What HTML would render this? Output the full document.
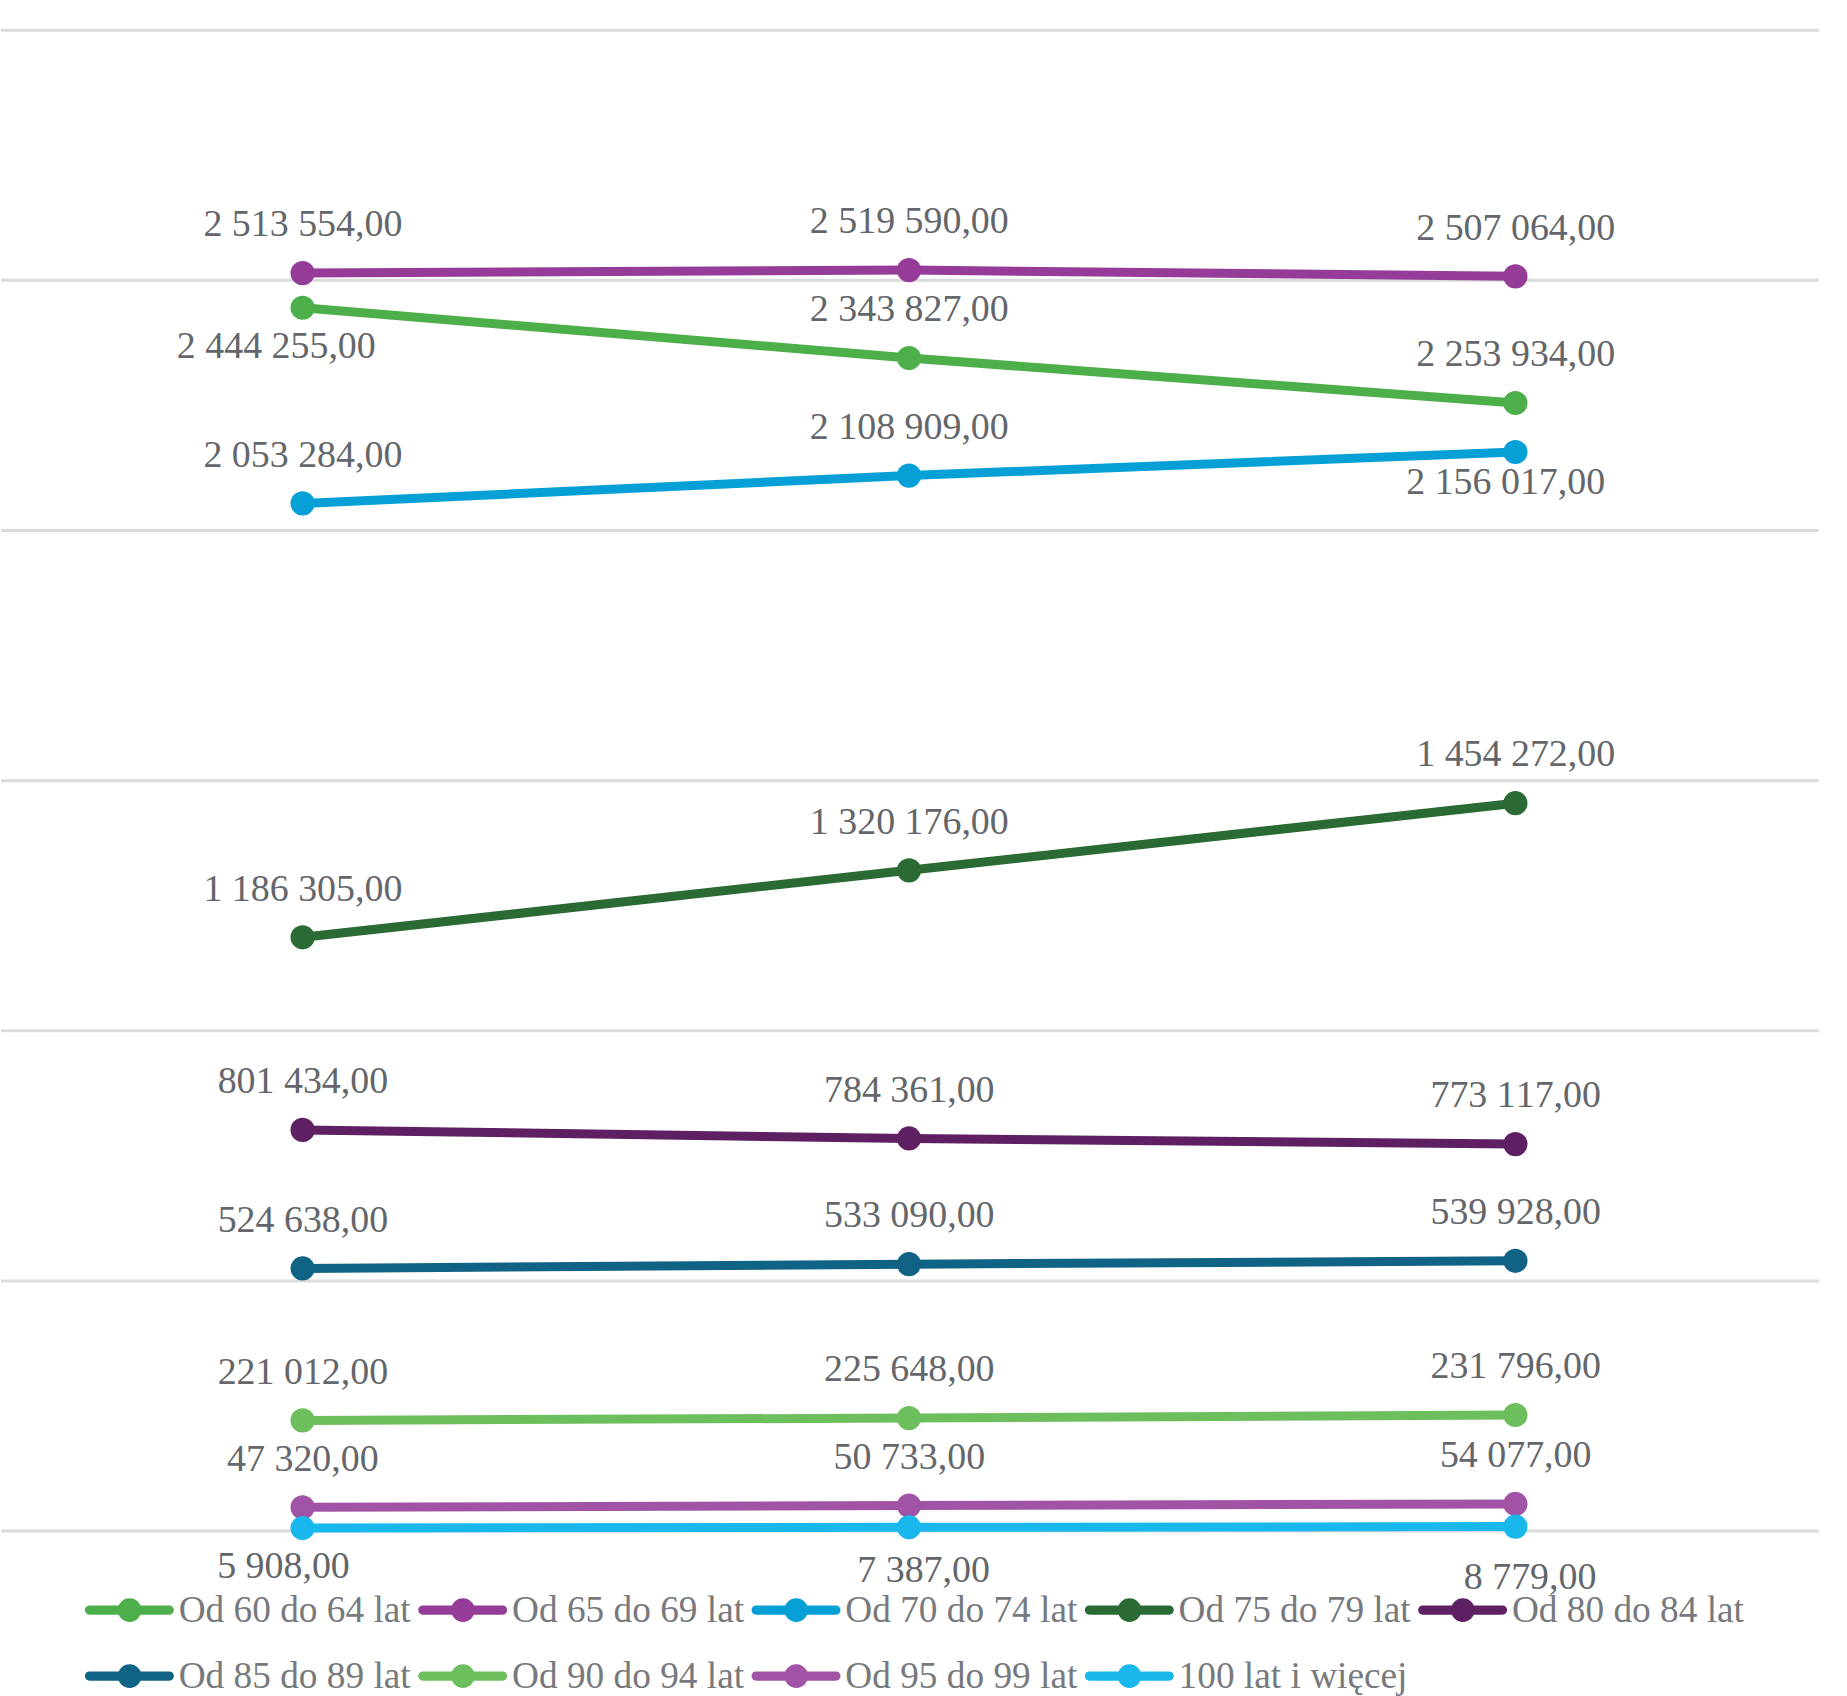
<!DOCTYPE html>
<html lang="pl"><head><meta charset="utf-8"><title>Wykres</title>
<style>
html,body{margin:0;padding:0;background:#fff;}
body{width:1847px;height:1696px;overflow:hidden;}
svg{display:block;}
text{font-family:"Liberation Serif","Times New Roman",serif;}
.dl{fill:#63666a;text-anchor:middle;font-size:37.9px;font-kerning:none;}
.lg{fill:#77797d;font-size:37.3px;}
</style></head><body>
<svg width="1847" height="1696" viewBox="0 0 1847 1696">
<rect width="1847" height="1696" fill="#fff"/>
<g stroke="#dadbdd" stroke-width="3">
<line x1="1" y1="30.20" x2="1819" y2="30.20"/>
<line x1="1" y1="280.35" x2="1819" y2="280.35"/>
<line x1="1" y1="530.50" x2="1819" y2="530.50"/>
<line x1="1" y1="780.65" x2="1819" y2="780.65"/>
<line x1="1" y1="1030.80" x2="1819" y2="1030.80"/>
<line x1="1" y1="1280.95" x2="1819" y2="1280.95"/>
<line x1="1" y1="1531.10" x2="1819" y2="1531.10"/>
</g>
<g><polyline points="302.6,307.77 909.0,358.03 1515.4,403.02" fill="none" stroke="#4daf4a" stroke-width="9" stroke-linecap="round" stroke-linejoin="round"/>
<circle cx="302.6" cy="307.77" r="12.1" fill="#4daf4a"/>
<circle cx="909.0" cy="358.03" r="12.1" fill="#4daf4a"/>
<circle cx="1515.4" cy="403.02" r="12.1" fill="#4daf4a"/>
</g>
<g><polyline points="302.6,273.09 909.0,270.07 1515.4,276.34" fill="none" stroke="#943c97" stroke-width="9" stroke-linecap="round" stroke-linejoin="round"/>
<circle cx="302.6" cy="273.09" r="12.1" fill="#943c97"/>
<circle cx="909.0" cy="270.07" r="12.1" fill="#943c97"/>
<circle cx="1515.4" cy="276.34" r="12.1" fill="#943c97"/>
</g>
<g><polyline points="302.6,503.43 909.0,475.60 1515.4,452.02" fill="none" stroke="#06a0d6" stroke-width="9" stroke-linecap="round" stroke-linejoin="round"/>
<circle cx="302.6" cy="503.43" r="12.1" fill="#06a0d6"/>
<circle cx="909.0" cy="475.60" r="12.1" fill="#06a0d6"/>
<circle cx="1515.4" cy="452.02" r="12.1" fill="#06a0d6"/>
</g>
<g><polyline points="302.6,937.31 909.0,870.32 1515.4,803.21" fill="none" stroke="#2a6a35" stroke-width="9" stroke-linecap="round" stroke-linejoin="round"/>
<circle cx="302.6" cy="937.31" r="12.1" fill="#2a6a35"/>
<circle cx="909.0" cy="870.32" r="12.1" fill="#2a6a35"/>
<circle cx="1515.4" cy="803.21" r="12.1" fill="#2a6a35"/>
</g>
<g><polyline points="302.6,1129.92 909.0,1138.47 1515.4,1144.09" fill="none" stroke="#5e2062" stroke-width="9" stroke-linecap="round" stroke-linejoin="round"/>
<circle cx="302.6" cy="1129.92" r="12.1" fill="#5e2062"/>
<circle cx="909.0" cy="1138.47" r="12.1" fill="#5e2062"/>
<circle cx="1515.4" cy="1144.09" r="12.1" fill="#5e2062"/>
</g>
<g><polyline points="302.6,1268.44 909.0,1264.21 1515.4,1260.79" fill="none" stroke="#106384" stroke-width="9" stroke-linecap="round" stroke-linejoin="round"/>
<circle cx="302.6" cy="1268.44" r="12.1" fill="#106384"/>
<circle cx="909.0" cy="1264.21" r="12.1" fill="#106384"/>
<circle cx="1515.4" cy="1260.79" r="12.1" fill="#106384"/>
</g>
<g><polyline points="302.6,1420.39 909.0,1418.07 1515.4,1415.00" fill="none" stroke="#6cbf5c" stroke-width="9" stroke-linecap="round" stroke-linejoin="round"/>
<circle cx="302.6" cy="1420.39" r="12.1" fill="#6cbf5c"/>
<circle cx="909.0" cy="1418.07" r="12.1" fill="#6cbf5c"/>
<circle cx="1515.4" cy="1415.00" r="12.1" fill="#6cbf5c"/>
</g>
<g><polyline points="302.6,1507.32 909.0,1505.61 1515.4,1503.94" fill="none" stroke="#a153a5" stroke-width="9" stroke-linecap="round" stroke-linejoin="round"/>
<circle cx="302.6" cy="1507.32" r="12.1" fill="#a153a5"/>
<circle cx="909.0" cy="1505.61" r="12.1" fill="#a153a5"/>
<circle cx="1515.4" cy="1503.94" r="12.1" fill="#a153a5"/>
</g>
<g><polyline points="302.6,1528.04 909.0,1527.30 1515.4,1526.61" fill="none" stroke="#18b8ec" stroke-width="9" stroke-linecap="round" stroke-linejoin="round"/>
<circle cx="302.6" cy="1528.04" r="12.1" fill="#18b8ec"/>
<circle cx="909.0" cy="1527.30" r="12.1" fill="#18b8ec"/>
<circle cx="1515.4" cy="1526.61" r="12.1" fill="#18b8ec"/>
</g>
<g class="dl">
<text x="276.3" y="357.8">2 444 255,00</text>
<text x="909.3" y="321.2">2 343 827,00</text>
<text x="1515.7" y="366.2">2 253 934,00</text>
<text x="302.9" y="236.3">2 513 554,00</text>
<text x="909.3" y="233.3">2 519 590,00</text>
<text x="1515.7" y="239.5">2 507 064,00</text>
<text x="302.9" y="466.6">2 053 284,00</text>
<text x="909.3" y="438.8">2 108 909,00</text>
<text x="1505.7" y="493.5">2 156 017,00</text>
<text x="302.9" y="900.5">1 186 305,00</text>
<text x="909.3" y="833.5">1 320 176,00</text>
<text x="1515.7" y="766.4">1 454 272,00</text>
<text x="302.9" y="1093.1">801 434,00</text>
<text x="909.3" y="1101.7">784 361,00</text>
<text x="1515.7" y="1107.3">773 117,00</text>
<text x="302.9" y="1231.6">524 638,00</text>
<text x="909.3" y="1227.4">533 090,00</text>
<text x="1515.7" y="1224.0">539 928,00</text>
<text x="302.9" y="1383.6">221 012,00</text>
<text x="909.3" y="1381.3">225 648,00</text>
<text x="1515.7" y="1378.2">231 796,00</text>
<text x="302.9" y="1470.5">47 320,00</text>
<text x="909.3" y="1468.8">50 733,00</text>
<text x="1515.7" y="1467.1">54 077,00</text>
<text x="283.5" y="1578.0">5 908,00</text>
<text x="923.6" y="1581.5">7 387,00</text>
<text x="1530.1" y="1589.3">8 779,00</text>
</g>
<g>
<line x1="89.5" y1="1610.1" x2="169.3" y2="1610.1" stroke="#4daf4a" stroke-width="9.2" stroke-linecap="round"/>
<circle cx="129.6" cy="1610.1" r="11.8" fill="#4daf4a"/>
<text class="lg" x="178.7" y="1621.7">Od 60 do 64 lat</text>
<line x1="422.8" y1="1610.1" x2="502.6" y2="1610.1" stroke="#943c97" stroke-width="9.2" stroke-linecap="round"/>
<circle cx="462.9" cy="1610.1" r="11.8" fill="#943c97"/>
<text class="lg" x="512.0" y="1621.7">Od 65 do 69 lat</text>
<line x1="756.1" y1="1610.1" x2="835.9" y2="1610.1" stroke="#06a0d6" stroke-width="9.2" stroke-linecap="round"/>
<circle cx="796.2" cy="1610.1" r="11.8" fill="#06a0d6"/>
<text class="lg" x="845.3" y="1621.7">Od 70 do 74 lat</text>
<line x1="1089.4" y1="1610.1" x2="1169.2" y2="1610.1" stroke="#2a6a35" stroke-width="9.2" stroke-linecap="round"/>
<circle cx="1129.5" cy="1610.1" r="11.8" fill="#2a6a35"/>
<text class="lg" x="1178.6" y="1621.7">Od 75 do 79 lat</text>
<line x1="1422.7" y1="1610.1" x2="1502.5" y2="1610.1" stroke="#5e2062" stroke-width="9.2" stroke-linecap="round"/>
<circle cx="1462.8" cy="1610.1" r="11.8" fill="#5e2062"/>
<text class="lg" x="1511.9" y="1621.7">Od 80 do 84 lat</text>
<line x1="89.5" y1="1676.1" x2="169.3" y2="1676.1" stroke="#106384" stroke-width="9.2" stroke-linecap="round"/>
<circle cx="129.6" cy="1676.1" r="11.8" fill="#106384"/>
<text class="lg" x="178.7" y="1687.7">Od 85 do 89 lat</text>
<line x1="422.8" y1="1676.1" x2="502.6" y2="1676.1" stroke="#6cbf5c" stroke-width="9.2" stroke-linecap="round"/>
<circle cx="462.9" cy="1676.1" r="11.8" fill="#6cbf5c"/>
<text class="lg" x="512.0" y="1687.7">Od 90 do 94 lat</text>
<line x1="756.1" y1="1676.1" x2="835.9" y2="1676.1" stroke="#a153a5" stroke-width="9.2" stroke-linecap="round"/>
<circle cx="796.2" cy="1676.1" r="11.8" fill="#a153a5"/>
<text class="lg" x="845.3" y="1687.7">Od 95 do 99 lat</text>
<line x1="1089.4" y1="1676.1" x2="1169.2" y2="1676.1" stroke="#18b8ec" stroke-width="9.2" stroke-linecap="round"/>
<circle cx="1129.5" cy="1676.1" r="11.8" fill="#18b8ec"/>
<text class="lg" x="1178.6" y="1687.7">100 lat i więcej</text>
</g>
</svg></body></html>
